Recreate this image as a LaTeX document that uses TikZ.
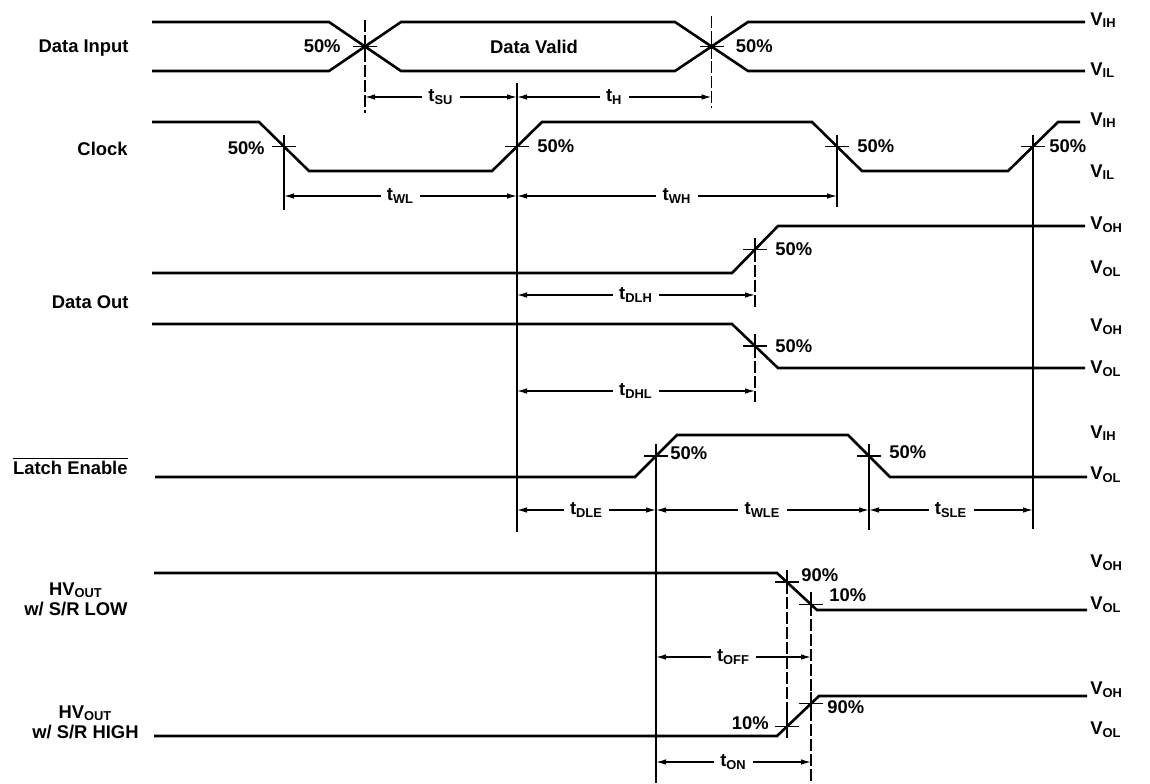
\documentclass[tikz,border=0pt]{standalone}
\usepackage{fontspec}
\setmainfont{Liberation Sans}
\usetikzlibrary{arrows.meta}
\usetikzlibrary{calc}

\begin{document}
\begin{tikzpicture}[x=0.5pt, y=-0.5pt,
    sig/.style={line width=1.3pt},
    ext/.style={line width=0.7pt},
    extd/.style={line width=0.7pt, dash pattern=on 6pt off 1.5pt},
    dim/.style={line width=0.65pt, -{Latex[length=5pt,width=2.8pt]}},
    tick/.style={line width=0.8pt},
    lbl/.style={font=\fontsize{9.2}{10}\selectfont\bfseries, inner sep=1pt}]
  \useasboundingbox (0,0) rectangle (1150,783);
  % data input
  \draw[sig] (152,22) -- (329,22) -- (401,71) -- (675,71) -- (748,22) -- (1085,22);
  \draw[sig] (152,71) -- (329,71) -- (401,22) -- (675,22) -- (748,71) -- (1085,71);
  \coordinate (di1) at (365,46.5);
  \coordinate (di2) at (711.5,46.5);
  % clock
  \draw[sig] (152,122) -- (259,122) -- coordinate[pos=.5] (ck1) (309,171)
    -- (492,171) -- coordinate[pos=.5] (ck2) (542,122)
    -- (812,122) -- coordinate[pos=.5] (ck3) (862,171)
    -- (1008,171) -- coordinate[pos=.5] (ck4) (1058,122) -- (1080,122);
  % data out
  \draw[sig] (152,273) -- (732,273) -- coordinate[pos=.5] (do1) (778,226) -- (1085,226);
  \draw[sig] (152,324) -- (732,324) -- coordinate[pos=.5] (do2) (778,368) -- (1085,368);
  % latch enable
  \draw[sig] (155,477) -- (635,477) -- coordinate[pos=.5] (le1) (677,435)
    -- (848,435) -- coordinate[pos=.5] (le2) (890,477) -- (1087,477);
  % hv out
  \draw[sig] (154,573) -- (777,573) -- coordinate[pos=.25] (hl90) coordinate[pos=.85] (hl10) (817,610) -- (1087,610);
  \draw[sig] (154,736) -- (777,736) -- coordinate[pos=.24] (hh10) coordinate[pos=.81] (hh90) (819,696) -- (1087,696);
  % extension lines
  \draw[extd] (di1 |- 0,20) -- (di1 |- 0,113);
  \draw[extd] (di2 |- 0,16) -- (di2 |- 0,108);
  \draw[ext] (ck2 |- 0,83) -- (ck2 |- 0,532);
  \draw[ext] (ck1) -- (ck1 |- 0,210);
  \draw[ext] (ck3) -- (ck3 |- 0,207);
  \draw[ext] (ck4) -- (ck4 |- 0,529);
  \draw[extd] (do1) -- (do1 |- 0,307);
  \draw[extd] (do2) -- (do2 |- 0,402);
  \draw[ext] (le1) -- (le1 |- 0,783);
  \draw[ext] (le2) -- (le2 |- 0,530);
  \draw[extd] (hl90) -- (hl90 |- 0,738);
  \draw[extd] (hl10) -- (hl10 |- 0,783);
  % crosses
  \foreach \p in {di1,di2,ck1,ck2,ck3,ck4,do1,do2,le1,le2,hl90,hl10,hh10,hh90}
    \draw[tick] ([xshift=-6pt]\p) -- ([xshift=6pt]\p) ([yshift=-6pt]\p) -- ([yshift=6pt]\p);
  % timing arrows
  \foreach \a/\b/\y/\s in {di1/ck2/97/SU, ck2/di2/97/H, ck1/ck2/196/WL, ck2/ck3/196/WH,
      ck2/do1/295/DLH, ck2/do2/391/DHL, ck2/le1/510/DLE, le1/le2/510/WLE, le2/ck4/510/SLE,
      le1/hl10/657/OFF, le1/hl10/762/ON} {
    \node[lbl, inner sep=3pt] (t\s) at ($(\a |- 0,\y)!.5!(\b |- 0,\y)$) {t\textsubscript{\s}};
    \draw[dim] (t\s.west) -- (\a |- 0,\y);
    \draw[dim] (t\s.east) -- (\b |- 0,\y);
  }
  % percent labels
  \node[lbl, anchor=east] (p1) at ([xshift=-11pt]di1) {50\%};
  \node[lbl, anchor=west] (p2) at ([xshift=11pt]di2) {50\%};
  \node[lbl, anchor=east] (p3) at ([xshift=-8.5pt,yshift=-1pt]ck1) {50\%};
  \node[lbl, anchor=west] (p4) at ([xshift=9pt]ck2) {50\%};
  \node[lbl, anchor=west] (p5) at ([xshift=9pt]ck3) {50\%};
  \node[lbl, anchor=west] (p6) at ([xshift=7pt]ck4) {50\%};
  \node[lbl, anchor=west] (p7) at ([xshift=9pt]do1) {50\%};
  \node[lbl, anchor=west] (p8) at ([xshift=9pt]do2) {50\%};
  \node[lbl, anchor=west] (p9) at ([xshift=6pt,yshift=1.5pt]le1) {50\%};
  \node[lbl, anchor=west] (p10) at ([xshift=9pt,yshift=2pt]le2) {50\%};
  \node[lbl, anchor=west] (p11) at ([xshift=6pt,yshift=3.5pt]hl90) {90\%};
  \node[lbl, anchor=west] (p12) at ([xshift=8pt,yshift=4.5pt]hl10) {10\%};
  \node[lbl, anchor=east] (p13) at ([xshift=-8pt,yshift=1.5pt]hh10) {10\%};
  \node[lbl, anchor=west] (p14) at ([xshift=7pt,yshift=-2pt]hh90) {90\%};
  \node[lbl] (valid) at (534,47) {Data Valid};
  % signal names
  \node[lbl, anchor=east] (nin) at (131,48) {Data Input};
  \node[lbl, anchor=east] (nclk) at (130,149) {Clock};
  \node[lbl, anchor=east] (nout) at (131,302) {Data Out};
  \node[lbl, anchor=east] (nle) at (130,466) {$\overline{\mbox{Latch Enable}}$};
  \node[lbl, anchor=east, align=center] (nhvl) at (130,599) {HV\textsubscript{OUT}\\w/ S/R LOW};
  \node[lbl, anchor=east, align=center] (nhvh) at (141,722) {HV\textsubscript{OUT}\\w/ S/R HIGH};
  % levels
  \foreach \y/\s in {20/IH, 70/IL, 120/IH, 172/IL, 225/OH, 269/OL, 327/OH, 369/OL,
      433/IH, 475/OL, 563/OH, 605/OL, 690/OH, 730/OL}
    \node[lbl, anchor=west] (v\y) at (1088,\y) {V\textsubscript{\s}};
\end{tikzpicture}
\end{document}
